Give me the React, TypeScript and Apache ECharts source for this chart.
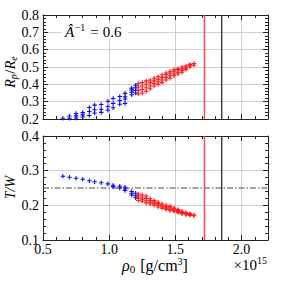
import React, { useEffect, useRef } from "react";
import * as echarts from "echarts";

// ---- data ----
const blueRho = [0.65, 0.7, 0.75, 0.8, 0.85, 0.89, 0.94, 0.99, 1.03, 1.08, 1.12, 1.17, 1.2];
const blueRpRe = [
  [0.204],
  [0.204, 0.217],
  [0.206, 0.218, 0.232],
  [0.212, 0.224, 0.237],
  [0.22, 0.243, 0.266],
  [0.235, 0.253, 0.28],
  [0.238, 0.256, 0.284],
  [0.25, 0.272, 0.302],
  [0.265, 0.29, 0.318],
  [0.285, 0.307, 0.33],
  [0.29, 0.315, 0.328, 0.348],
  [0.34, 0.355, 0.368, 0.378],
  [0.35, 0.365, 0.38, 0.395],
];
const blueTW = [
  [0.284],
  [0.281],
  [0.278],
  [0.275],
  [0.271],
  [0.268],
  [0.265],
  [0.262],
  [0.258, 0.254],
  [0.255, 0.25],
  [0.252, 0.247, 0.243],
  [0.24, 0.235, 0.23],
  [0.235, 0.228, 0.222],
];
const redRho = [1.22, 1.25, 1.28, 1.31, 1.34, 1.37, 1.4, 1.43, 1.46, 1.49, 1.52, 1.55, 1.58, 1.61, 1.64];
const redRpRe = [
  [0.345, 0.365, 0.385, 0.405],
  [0.35, 0.37, 0.39, 0.41],
  [0.36, 0.38, 0.4, 0.42],
  [0.375, 0.39, 0.41, 0.425],
  [0.39, 0.405, 0.42, 0.435],
  [0.4, 0.415, 0.43, 0.445],
  [0.41, 0.425, 0.44, 0.455],
  [0.425, 0.44, 0.455, 0.465],
  [0.435, 0.45, 0.465, 0.475],
  [0.45, 0.46, 0.475, 0.485],
  [0.46, 0.47, 0.485, 0.49],
  [0.47, 0.48, 0.49, 0.5],
  [0.485, 0.495, 0.505],
  [0.5, 0.51, 0.515],
  [0.51, 0.52],
];
const redTW = [
  [0.214, 0.22, 0.227, 0.233],
  [0.212, 0.218, 0.224, 0.23],
  [0.207, 0.213, 0.22, 0.227],
  [0.204, 0.209, 0.214, 0.219],
  [0.2, 0.205, 0.21, 0.214],
  [0.195, 0.2, 0.205, 0.209],
  [0.192, 0.196, 0.2, 0.204],
  [0.188, 0.192, 0.196, 0.2],
  [0.185, 0.189, 0.193, 0.197],
  [0.183, 0.186, 0.189, 0.192],
  [0.179, 0.182, 0.185, 0.188],
  [0.176, 0.179, 0.183],
  [0.173, 0.176, 0.179],
  [0.171, 0.174, 0.176],
  [0.17, 0.172],
];
const redLineRho = 1.72;
const blackLineRho = 1.85;
const refTW = 0.25;
const xRange = [0.5, 2.2];
const rpReRange = [0.2, 0.8];
const twRange = [0.1, 0.4];
const annotationValue = "0.6";

// ---- styling ----
const FONT = "'Liberation Serif', 'DejaVu Serif', serif";
const FRAME = "#222";
const GRID = "#c4c4c4";
const BLUE = "#0a0aff";
const RED = "#ff1a1a";
const PLUS = "path://M3.8,0H6.2V3.8H10V6.2H6.2V10H3.8V6.2H0V3.8H3.8Z";

function flatten(xs: number[], cols: number[][]) {
  const out: number[][] = [];
  xs.forEach((x, i) => cols[i].forEach((y) => out.push([x, y])));
  return out;
}

function xAxes(gridIndex: number, labels: boolean) {
  const base = { type: "value", gridIndex, min: xRange[0], max: xRange[1] };
  return [
    {
      ...base,
      position: "bottom",
      interval: 0.5,
      axisLine: { show: true, onZero: false, lineStyle: { color: FRAME, width: 1 } },
      axisTick: { show: true, inside: true, length: 5, lineStyle: { color: FRAME } },
      axisLabel: {
        show: labels,
        showMaxLabel: false,
        formatter: (v: number) => v.toFixed(1),
        fontFamily: FONT,
        fontSize: 14,
        color: "#000",
        margin: 2,
      },
      splitLine: { show: true, lineStyle: { color: GRID, width: 0.8 } },
    },
    {
      ...base,
      position: "top",
      interval: 0.5,
      axisLine: { show: true, onZero: false, lineStyle: { color: FRAME, width: 1 } },
      axisTick: { show: true, inside: true, length: 5, lineStyle: { color: FRAME } },
      axisLabel: { show: false },
      splitLine: { show: false },
    },
    {
      ...base,
      position: "bottom",
      interval: 0.1,
      axisLine: { show: false },
      axisTick: { show: true, inside: true, length: 3, lineStyle: { color: FRAME } },
      axisLabel: { show: false },
      splitLine: { show: false },
    },
    {
      ...base,
      position: "top",
      interval: 0.1,
      axisLine: { show: false },
      axisTick: { show: true, inside: true, length: 3, lineStyle: { color: FRAME } },
      axisLabel: { show: false },
      splitLine: { show: false },
    },
  ];
}

function yAxes(gridIndex: number, range: number[]) {
  const base = {
    type: "value",
    gridIndex,
    min: range[0],
    max: range[1],
    interval: 0.1,
    axisLine: { show: true, onZero: false, lineStyle: { color: FRAME, width: 1 } },
    axisTick: { show: true, inside: true, length: 5, lineStyle: { color: FRAME } },
    minorTick: { show: true, splitNumber: 5, length: 3, lineStyle: { color: FRAME } },
  };
  return [
    {
      ...base,
      position: "left",
      axisLabel: {
        show: true,
        formatter: (v: number) => v.toFixed(1),
        fontFamily: FONT,
        fontSize: 14,
        color: "#000",
        margin: 4,
      },
      splitLine: { show: true, lineStyle: { color: GRID, width: 0.8 } },
    },
    {
      ...base,
      position: "right",
      axisLabel: { show: false },
      splitLine: { show: false },
    },
  ];
}

function scatter(data: number[][], color: string, xi: number, yi: number) {
  return {
    type: "scatter",
    xAxisIndex: xi,
    yAxisIndex: yi,
    data,
    symbol: PLUS,
    symbolSize: 4.5,
    itemStyle: { color, opacity: 1 },
    z: 5,
  };
}

function vline(x: number, range: number[], color: string, width: number, xi: number, yi: number) {
  return {
    type: "line",
    xAxisIndex: xi,
    yAxisIndex: yi,
    data: [
      [x, range[0]],
      [x, range[1]],
    ],
    symbol: "none",
    lineStyle: { color, width },
    z: 6,
  };
}

type Piece = { t: string; s: number; i?: boolean; dy?: number; gap?: number };

let measureCtx: CanvasRenderingContext2D | null = null;
function measure(p: Piece) {
  if (!measureCtx) measureCtx = document.createElement("canvas").getContext("2d");
  if (!measureCtx) return p.t.length * p.s * 0.5;
  measureCtx.font = `${p.i ? "italic " : ""}${p.s}px ${FONT}`;
  return measureCtx.measureText(p.t).width;
}

// lay pieces out sequentially; anchor: "left" | "center" | "right" at x
function layout(pieces: Piece[], x: number, y: number, anchor = "left") {
  const widths = pieces.map(measure);
  const total = widths.reduce((a, w, k) => a + w + (pieces[k].gap || 0), 0);
  let cx = anchor === "left" ? x : anchor === "center" ? x - total / 2 : x - total;
  return pieces.map((p, k) => {
    cx += p.gap || 0;
    const el = {
      type: "text",
      x: cx,
      y: y + (p.dy || 0),
      z: 101,
      style: {
        text: p.t,
        fontFamily: FONT,
        fontSize: p.s,
        fontStyle: p.i ? "italic" : "normal",
        fill: "#000",
        align: "left",
        verticalAlign: "middle",
      },
    };
    cx += widths[k];
    return el;
  });
}

export default function App() {
  const ref = useRef<HTMLDivElement>(null);
  useEffect(() => {
    if (!ref.current) return;
    const chart = echarts.init(ref.current, undefined, { renderer: "svg" });
    const option = {
      animation: false,
      backgroundColor: "#fff",
      grid: [
        { left: 43, top: 15, width: 225, height: 104 },
        { left: 43, top: 136, width: 225, height: 104 },
      ],
      xAxis: [...xAxes(0, false), ...xAxes(1, true)],
      yAxis: [...yAxes(0, rpReRange), ...yAxes(1, twRange)],
      series: [
        scatter(flatten(blueRho, blueRpRe), BLUE, 0, 0),
        scatter(flatten(redRho, redRpRe), RED, 0, 0),
        scatter(flatten(blueRho, blueTW), BLUE, 4, 2),
        scatter(flatten(redRho, redTW), RED, 4, 2),
        vline(redLineRho, rpReRange, "#ff4d4d", 1.5, 0, 0),
        vline(blackLineRho, rpReRange, "#383838", 1.4, 0, 0),
        vline(redLineRho, twRange, "#ff4d4d", 1.5, 4, 2),
        vline(blackLineRho, twRange, "#383838", 1.4, 4, 2),
        {
          type: "line",
          xAxisIndex: 4,
          yAxisIndex: 2,
          data: [
            [xRange[0], refTW],
            [xRange[1], refTW],
          ],
          symbol: "none",
          lineStyle: { color: "#444", width: 1, type: [6, 2, 1.5, 2] },
          z: 4,
        },
      ],
      graphic: [
        {
          type: "rect",
          z: 100,
          shape: { x: 62, y: 24, width: 66, height: 15 },
          style: { fill: "#fff" },
        },
        ...layout(
          [
            { t: "Â", s: 15, i: true },
            { t: "−1", s: 10, dy: -5, gap: 0.5 },
            { t: "=", s: 15, gap: 5 },
            { t: annotationValue, s: 15, gap: 4 },
          ],
          65,
          32
        ),
        {
          type: "group",
          x: 10,
          y: 72,
          rotation: Math.PI / 2,
          z: 100,
          children: layout(
            [
              { t: "R", s: 14, i: true },
              { t: "p", s: 10, i: true, dy: 3 },
              { t: "/", s: 14, gap: 0.5 },
              { t: "R", s: 14, i: true, gap: 0.5 },
              { t: "e", s: 10, i: true, dy: 3 },
            ],
            0,
            0,
            "center"
          ),
        },
        {
          type: "group",
          x: 10.5,
          y: 187.5,
          rotation: Math.PI / 2,
          z: 100,
          children: layout([{ t: "T/W", s: 14, i: true }], 0, 0, "center"),
        },
        ...layout(
          [
            { t: "ρ", s: 16, i: true },
            { t: "0", s: 11, dy: 3 },
            { t: "[g/cm", s: 16, gap: 5 },
            { t: "3", s: 10, dy: -4 },
            { t: "]", s: 16 },
          ],
          155,
          265.5,
          "center"
        ),
        ...layout(
          [
            { t: "×10", s: 15 },
            { t: "15", s: 10, dy: -5 },
          ],
          267,
          265,
          "right"
        ),
      ],
    };
    chart.setOption(option as any);
    return () => chart.dispose();
  }, []);
  return (
    <div
      ref={ref}
      style={{ position: "fixed", left: 0, top: 0, width: 283, height: 283, background: "#fff" }}
    />
  );
}
